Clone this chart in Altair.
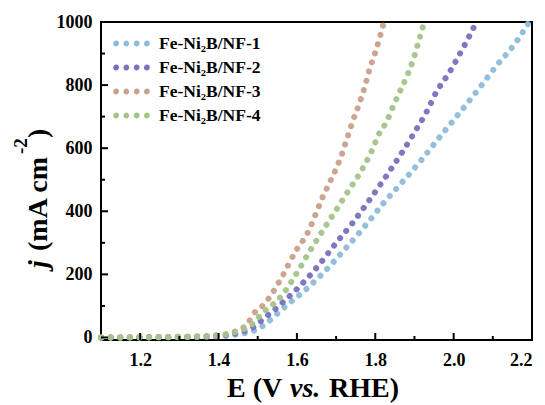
import altair as alt
import pandas as pd

# ---- data ----
names = ["Fe-Ni\u2082B/NF-1", "Fe-Ni\u2082B/NF-2", "Fe-Ni\u2082B/NF-3", "Fe-Ni\u2082B/NF-4"]
colors = ["#8dbcdb", "#7871be", "#c9a08a", "#a2c489"]

e1 = [1.10, 1.30, 1.40, 1.45, 1.497, 1.518, 1.538, 1.561, 1.577, 1.602, 1.663, 1.717, 1.777,
      1.824, 1.870, 1.918, 1.959, 2.015, 2.066, 2.111, 2.160, 2.190]
j1 = [0, 1, 4, 10, 25, 41, 62, 88, 105, 130, 199, 272, 358, 430, 494, 563, 627, 712, 791, 864, 937, 995]

e2 = [1.10, 1.30, 1.40, 1.45, 1.492, 1.518, 1.538, 1.561, 1.599, 1.653, 1.701, 1.739, 1.780,
      1.816, 1.844, 1.870, 1.900, 1.931, 1.956, 1.989, 2.010, 2.035, 2.058]
j2 = [0, 1, 5, 15, 35, 63, 82, 108, 152, 225, 301, 358, 427, 490, 541, 590, 650, 715, 778, 840,
      886, 943, 1000]

e3 = [1.10, 1.30, 1.40, 1.44, 1.472, 1.492, 1.513, 1.538, 1.561, 1.599, 1.625, 1.663, 1.717,
      1.727, 1.742, 1.760, 1.773, 1.785, 1.798, 1.811, 1.822]
j3 = [0, 2, 6, 18, 41, 79, 101, 142, 190, 278, 326, 437, 589, 627, 684, 744, 794, 848, 896, 949, 1000]

e4 = [1.10, 1.30, 1.40, 1.447, 1.485, 1.513, 1.538, 1.563, 1.594, 1.640, 1.678, 1.717, 1.790,
      1.811, 1.829, 1.844, 1.862, 1.880, 1.895, 1.908, 1.925]
j4 = [0, 2, 8, 19, 41, 79, 104, 135, 193, 288, 362, 437, 589, 649, 684, 728, 778, 826, 873, 927, 1000]

x_major = [1.2, 1.4, 1.6, 1.8, 2.0, 2.2]
x_minor = [1.3, 1.5, 1.7, 1.9, 2.1]
y_major = [0, 200, 400, 600, 800, 1000]
y_minor = [100, 300, 500, 700, 900]

rows = []
for name, es, js in zip(names, [e1, e2, e3, e4], [j1, j2, j3, j4]):
    for k, (e, j) in enumerate(zip(es, js)):
        rows.append({"series": name, "E": e, "j": j, "order": k})
df = pd.DataFrame(rows)

W, H = 431, 318
FONT = "Liberation Serif"

# legend symbol: four small dots in a row (unit coordinates)
def _circle(c, r=0.1):
    return f"M{c - r},0A{r},{r} 0 1,1 {c + r},0A{r},{r} 0 1,1 {c - r},0Z"
dots_path = "".join(_circle(c) for c in [-1.1, -0.367, 0.367, 1.1])

xs = alt.Scale(domain=[1.1, 2.2], nice=False, zero=False)
ys = alt.Scale(domain=[-8, 1000], nice=False, zero=False)

lines = alt.Chart(df).mark_line(
    strokeDash=[0.1, 9.5], strokeCap="round", strokeWidth=6, interpolate="monotone", opacity=0.95
).encode(
    x=alt.X("E:Q", scale=xs, axis=alt.Axis(values=x_major, format=".1f", title=None, ticks=False,
                                           domain=False, grid=False, labelPadding=11)),
    y=alt.Y("j:Q", scale=ys, axis=alt.Axis(values=y_major, format="d", title=None, ticks=False,
                                           domain=False, grid=False, labelPadding=9)),
    color=alt.Color("series:N", scale=alt.Scale(domain=names, range=colors),
                    legend=alt.Legend(title=None, orient="none", legendX=15, legendY=6,
                                      symbolType=dots_path, symbolSize=784, symbolStrokeWidth=3,
                                      symbolOpacity=1,
                                      labelFont=FONT, labelFontSize=17.5, labelFontWeight="bold",
                                      labelColor="black", rowPadding=0, labelOffset=12)),
    order="order:Q",
)

def xticks(vals, length):
    return alt.Chart(pd.DataFrame({"v": vals})).mark_rule(color="black", strokeWidth=2).encode(
        x=alt.X("v:Q", scale=xs), y=alt.value(H), y2=alt.value(H - length))

def yticks(vals, length):
    return alt.Chart(pd.DataFrame({"v": vals})).mark_rule(color="black", strokeWidth=2).encode(
        y=alt.Y("v:Q", scale=ys), x=alt.value(0), x2=alt.value(length))

def label(txt, x, y, size=28, style="normal", angle=0):
    return alt.Chart(pd.DataFrame({"t": [txt]})).mark_text(
        font=FONT, fontSize=size, fontWeight="bold", fontStyle=style, align="left",
        baseline="alphabetic", angle=angle, color="black"
    ).encode(text="t:N", x=alt.value(x), y=alt.value(y))

titles = [
    label("E (V", 126, 375),
    label("vs.", 189, 375, style="italic"),
    label("RHE)", 228, 375),
    label("j", -54, 246, style="italic", angle=270),
    label("(mA cm", -54, 229, angle=270),
    label("-2", -74, 132, size=19, angle=270),
    label(")", -54, 116, angle=270),
]

chart = alt.layer(
    lines, xticks(x_major, 7), xticks(x_minor, 4), yticks(y_major, 7), yticks(y_minor, 4), *titles
).properties(
    width=W, height=H,
    autosize=alt.AutoSizeParams(type="none"),
    padding={"left": 93, "top": 14, "right": 5, "bottom": 64},
).configure_view(
    stroke="black", strokeWidth=2
).configure_axis(
    labelFont=FONT, labelFontSize=18, labelFontWeight="bold", labelColor="black"
)

chart.save("out.html", embed_options={"renderer": "svg", "actions": False})
